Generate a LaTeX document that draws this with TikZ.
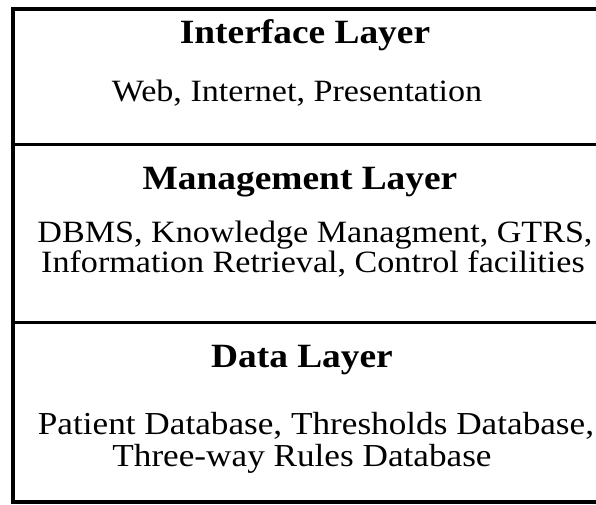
\documentclass[tikz,border=0pt]{standalone}
\usepackage{fontspec}
\setmainfont{Liberation Serif}[FakeStretch=1.1]
\begin{document}
\begin{tikzpicture}[x=1pt,y=-1pt,
  frame/.style={line width=4.5pt},
  sep/.style={line width=3pt},
  title/.style={anchor=base,inner sep=0pt,font=\fontsize{34}{38}\selectfont\bfseries},
  body/.style={anchor=base,inner sep=0pt,font=\fontsize{31}{35}\selectfont}]
\useasboundingbox (0,0) rectangle (596,504);
\clip (0,0) rectangle (596,504);
\draw[frame] (13,9) rectangle (640,502);
\draw[sep] (13,144) -- (640,144);
\draw[sep] (13,322) -- (640,322);
\node[title] (t1) at (305,43) {Interface Layer};
\node[body] (b1) at (297,101) {Web, Internet, Presentation};
\node[title] (t2) at (300,189) {Management Layer};
\node[body] (b2a) at (315,242) {DBMS, Knowledge Managment, GTRS,};
\node[body] (b2b) at (313,272) {Information Retrieval, Control facilities};
\node[title] (t3) at (302,367) {Data Layer};
\node[body] (b3a) at (316,434) {\fontsize{32}{35}\selectfont Patient Database, Thresholds Database,};
\node[body] (b3b) at (302,466) {\fontsize{32}{35}\selectfont Three-way Rules Database};
\end{tikzpicture}
\end{document}
